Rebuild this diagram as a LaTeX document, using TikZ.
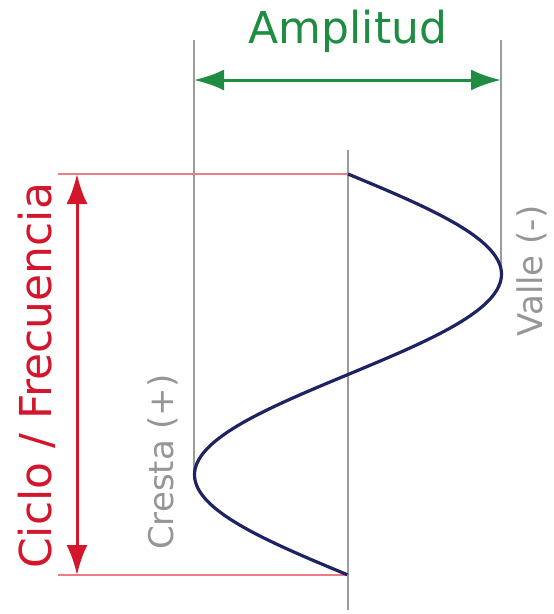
\documentclass[tikz,border=0pt]{standalone}
\usepackage{fontspec}
\setmainfont{DejaVu Sans}
\usepackage{tikz}
\usetikzlibrary{arrows.meta}
\definecolor{ampgreen}{RGB}{30,140,65}
\definecolor{cycred}{RGB}{212,22,45}
\definecolor{cyclight}{RGB}{236,125,135}
\definecolor{wavenavy}{RGB}{30,35,100}
\definecolor{guidegray}{RGB}{150,158,150}
\definecolor{labelgray}{RGB}{150,150,150}
\tikzset{
  guide/.style={guidegray, line width=1.3pt},
  limit/.style={cyclight, line width=1.3pt},
  dim/.style={line width=3pt, {Latex[length=30pt,width=21pt]}-{Latex[length=30pt,width=21pt]}},
  wave/.style={wavenavy, line width=3.2pt},
  bigtext/.style={font=\fontsize{44}{44}\selectfont},
  smalltext/.style={labelgray, font=\fontsize{34}{34}\selectfont, rotate=90, anchor=base}
}

\begin{document}
\begin{tikzpicture}[x=1pt,y=-1pt]
    \useasboundingbox (0,0) rectangle (554,614);
    % ends and turning points of the wave
    \coordinate (top) at (348,174);
    \coordinate (bottom) at (348,575);
    \coordinate (valle) at (501,274);
    \coordinate (cresta) at (194,475);
    % guide lines
    \coordinate (lefttop) at (194,40);
    \coordinate (righttop) at (501,40);
    \coordinate (axistop) at (348,150);
    \coordinate (axisbot) at (348,610);
    \coordinate (limtop) at (58,174);
    \coordinate (limbot) at (58,575);
    \coordinate (cyctop) at (77,174);
    \coordinate (cycbot) at (77,575);
    \coordinate (ampleft) at (194,80);
    \coordinate (ampright) at (501,80);
    \draw[guide] (lefttop) -- (cresta);
    \draw[guide] (righttop) -- (valle);
    \draw[guide] (axistop) -- (axisbot);
    \draw[limit] (limtop) -- (top);
    \draw[limit] (limbot) -- (bottom);
    \draw[dim, cycred] (cyctop) -- (cycbot);
    \draw[dim, ampgreen] (ampleft) -- (ampright);
    \draw[wave] plot[domain=0:1, samples=80, smooth] ({348+153.5*sin(360*\x)}, {174+401*\x});
    % labels
    \node[bigtext, ampgreen, anchor=base] (amplitud) at (348,43) {Amplitud};
    \node[bigtext, cycred, rotate=90, anchor=base] (ciclo) at (52,376) {Ciclo / Frecuencia};
    \node[smalltext] (crestalabel) at (173,462) {Cresta (+)};
    \node[smalltext] (vallelabel) at (542,271) {Valle (-)};
  \end{tikzpicture}
\end{document}
